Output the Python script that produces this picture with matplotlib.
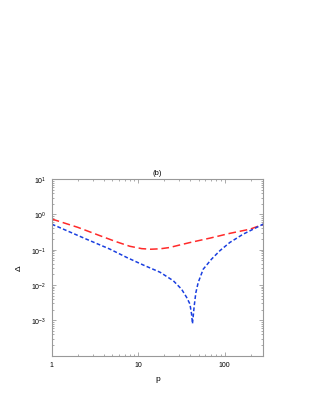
import numpy as np
import matplotlib
matplotlib.use("Agg")
import matplotlib.pyplot as plt
from matplotlib.ticker import FixedLocator, FuncFormatter, LogLocator

# data (log-log)
p_red = [1, 2, 3.6, 5.5, 8, 11, 14, 18, 23, 30, 40, 68, 115, 196, 280]
delta_red = [0.74, 0.43, 0.25, 0.17, 0.125, 0.107, 0.103, 0.106, 0.115, 0.135,
             0.16, 0.213, 0.29, 0.38, 0.52]

p_blue = [1, 2.5, 4.7, 7.4, 11.4, 17.9, 25.5, 31.8, 36.3, 39.7, 41.5, 42.5,
          43.5, 44.5, 46.5, 49.5, 56.6, 70.7, 88, 115, 164, 214, 280]
delta_blue = [0.53, 0.2, 0.104, 0.06, 0.037, 0.023, 0.0132, 0.0076, 0.0045,
              0.0029, 0.0015, 0.0008, 0.0014, 0.0025, 0.006, 0.0117, 0.028,
              0.054, 0.093, 0.16, 0.275, 0.38, 0.53]

x_ticks = [1, 10, 100]
x_labels = ["1", "10", "100"]

plt.rcParams['font.family'] = ['Liberation Sans', 'DejaVu Sans']
plt.rcParams['mathtext.fontset'] = 'custom'
plt.rcParams['mathtext.rm'] = 'Liberation Sans'

fig = plt.figure(figsize=(3.1, 4.02), dpi=100)
ax = fig.add_axes([0.167, 0.113, 0.682, 0.439])

ax.plot(p_red, delta_red, color='#ff2a2a', lw=1.1, dashes=(5, 2.5))
ax.plot(p_blue, delta_blue, color='#1a3fe0', lw=1.1, dashes=(2.5, 1.5))

ax.set_xscale('log')
ax.set_yscale('log')
ax.set_xlim(1, 280)
ax.set_ylim(1e-4, 1e1)

ax.xaxis.set_major_locator(FixedLocator(x_ticks))
ax.xaxis.set_major_formatter(FuncFormatter(lambda v, pos: x_labels[x_ticks.index(round(v))] if round(v) in x_ticks else ""))
ax.xaxis.set_minor_locator(LogLocator(base=10, subs=np.arange(2, 10)))
ax.yaxis.set_major_locator(FixedLocator([1e-3, 1e-2, 1e-1, 1e0, 1e1]))
ax.yaxis.set_major_formatter(FuncFormatter(lambda v, pos: r"$10^{%d}$" % round(np.log10(v))))
ax.yaxis.set_minor_locator(LogLocator(base=10, subs=np.arange(2, 10)))

ax.tick_params(which='both', direction='in', top=True, right=True,
               labelsize=5, colors='#888888', labelcolor='black', width=0.5)
ax.tick_params(which='major', length=3, pad=4)
ax.tick_params(which='minor', length=1.5)
for s in ax.spines.values():
    s.set_color('#999999')
    s.set_linewidth(0.8)

ax.set_title("(b)", fontsize=5.5, pad=4)
ax.set_xlabel("p", fontsize=6, labelpad=5)
ax.set_ylabel("Δ", fontsize=6, labelpad=6)

fig.savefig("out.png", dpi=100)
